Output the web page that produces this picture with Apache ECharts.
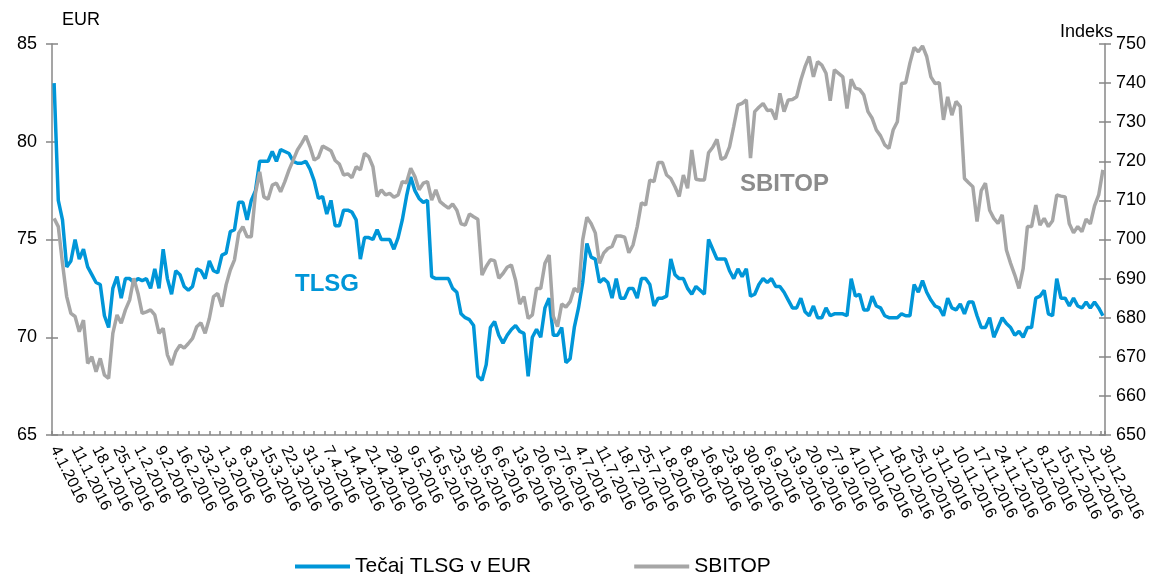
<!doctype html>
<html>
<head>
<meta charset="UTF-8">
<title>TLSG / SBITOP 2016</title>
<script src="https://cdn.jsdelivr.net/npm/echarts@6/dist/echarts.min.js"></script>
<style>
  html, body { margin: 0; padding: 0; background: #fff; }
  #main { width: 1163px; height: 574px; }
</style>
</head>
<body>
<div id="main"></div>
<script>
// trgovalni dnevi 2016 (Ljubljanska borza), brez praznikov
var holidays = ['2016-02-08', '2016-03-25', '2016-03-28', '2016-04-27', '2016-05-02',
                '2016-08-15', '2016-10-31', '2016-11-01', '2016-12-26'];
var firstDay = '2016-01-04';
var lastDay = '2016-12-30';

// Tečaj TLSG v EUR (leva os)
var tlsg = [
  83.0, 77.0, 76.0, 73.6, 73.9, 75.0, 74.0, 74.5, 73.6, 73.2,
  72.8, 72.7, 71.1, 70.5, 72.5, 73.1, 72.0, 73.0, 73.0, 72.8,
  73.0, 72.9, 73.0, 72.5, 73.5, 72.5, 74.5, 73.0, 72.2, 73.4,
  73.2, 72.6, 72.4, 72.6, 73.5, 73.4, 73.0, 73.9, 73.4, 73.3,
  74.2, 74.3, 75.4, 75.5, 76.9, 76.9, 76.0, 77.0, 77.5, 79.0,
  79.0, 79.0, 79.5, 79.0, 79.6, 79.5, 79.4, 79.0, 78.9, 78.9,
  79.0, 78.6, 78.0, 77.1, 77.2, 76.3, 77.0, 75.7, 75.7, 76.5,
  76.5, 76.4, 76.0, 74.0, 75.1, 75.1, 75.0, 75.5, 75.0, 75.0,
  75.0, 74.5, 75.1, 76.0, 77.2, 78.2, 77.5, 77.1, 76.9, 77.0,
  73.1, 73.0, 73.0, 73.0, 73.0, 72.5, 72.3, 71.2, 71.0, 70.9,
  70.6, 68.0, 67.8, 68.6, 70.5, 70.8, 70.1, 69.7, 70.1, 70.4,
  70.6, 70.3, 70.2, 68.0, 70.0, 70.4, 70.0, 71.5, 72.0, 70.1,
  70.1, 70.5, 68.7, 68.9, 70.5, 71.5, 72.8, 74.8, 74.1, 74.0,
  72.8, 73.0, 72.8, 72.0, 73.0, 72.0, 72.0, 72.5, 72.5, 72.0,
  73.0, 73.0, 72.7, 71.6, 72.0, 72.0, 72.1, 74.0, 73.2, 73.0,
  73.0, 72.5, 72.2, 72.6, 72.4, 72.2, 75.0, 74.5, 74.0, 74.0,
  74.0, 73.4, 73.0, 73.5, 73.1, 73.5, 72.1, 72.2, 72.7, 73.0,
  72.8, 73.0, 72.6, 72.6, 72.3, 71.9, 71.5, 71.5, 72.0, 71.3,
  71.1, 71.6, 71.0, 71.0, 71.5, 71.1, 71.2, 71.2, 71.2, 71.1,
  73.0, 72.1, 72.2, 71.4, 71.4, 72.1, 71.6, 71.5, 71.1, 71.0,
  71.0, 71.0, 71.2, 71.1, 71.1, 72.7, 72.3, 72.9, 72.3, 71.9,
  71.6, 71.5, 71.1, 72.0, 71.5, 71.4, 71.7, 71.2, 71.8, 71.8,
  71.1, 70.5, 70.5, 71.0, 70.0, 70.5, 71.0, 70.7, 70.5, 70.1,
  70.3, 70.0, 70.5, 70.5, 72.0, 72.1, 72.4, 71.2, 71.1, 73.0,
  72.0, 72.0, 71.6, 72.0, 71.6, 71.5, 71.8, 71.5, 71.8, 71.5, 71.1
];

// SBITOP (desna os)
var sbitop = [
  705.4, 703.3, 693.9, 685.4, 681.1, 680.3, 676.4, 679.4, 668.3, 670.0,
  666.2, 669.6, 665.3, 664.5, 676.0, 680.7, 678.6, 682.0, 684.5, 690.1,
  686.2, 681.1, 681.5, 682.0, 680.7, 676.0, 677.3, 670.5, 667.9, 671.3,
  673.0, 672.2, 673.4, 674.7, 677.7, 678.7, 676.0, 679.8, 685.4, 686.2,
  682.8, 688.4, 692.2, 694.8, 701.6, 703.3, 700.7, 700.7, 711.8, 717.3,
  710.9, 710.3, 713.9, 714.4, 712.2, 714.8, 717.8, 720.3, 722.9, 724.6,
  726.5, 723.7, 720.3, 721.0, 723.9, 723.3, 722.7, 720.2, 719.3, 716.5,
  716.8, 715.8, 718.6, 717.8, 722.0, 721.2, 718.6, 711.0, 712.7, 711.4,
  711.8, 710.8, 711.4, 714.8, 714.5, 718.2, 716.1, 712.7, 714.4, 714.8,
  710.1, 712.7, 709.7, 708.8, 708.0, 709.1, 707.5, 704.0, 703.7, 706.5,
  705.8, 705.2, 690.9, 693.1, 694.8, 694.6, 690.1, 691.3, 692.9, 693.5,
  689.6, 683.5, 685.4, 679.8, 680.7, 687.5, 687.5, 693.9, 696.0, 680.3,
  677.7, 683.5, 682.7, 684.1, 687.5, 686.6, 699.9, 705.7, 704.1, 701.7,
  693.9, 696.5, 697.7, 698.2, 700.9, 700.9, 700.6, 696.6, 698.6, 703.3,
  709.4, 708.8, 715.2, 714.8, 719.7, 719.7, 716.5, 715.6, 713.5, 711.0,
  716.5, 713.1, 722.9, 715.4, 715.2, 715.2, 722.2, 723.6, 725.6, 720.5,
  721.0, 723.7, 728.9, 734.4, 734.8, 735.7, 720.8, 732.7, 733.8, 734.8,
  733.0, 733.1, 730.7, 737.4, 732.7, 735.7, 735.8, 736.5, 740.8, 744.2,
  746.8, 741.6, 745.5, 744.6, 742.5, 735.5, 743.4, 742.5, 741.6, 733.5,
  741.0, 738.7, 738.4, 737.0, 732.7, 731.0, 728.0, 726.5, 724.2, 723.3,
  728.0, 730.1, 739.9, 740.1, 745.1, 749.1, 748.0, 749.5, 746.8, 741.6,
  739.9, 740.1, 730.6, 736.5, 731.8, 735.3, 734.0, 715.6, 714.5, 713.5,
  704.6, 712.5, 714.4, 707.5, 705.4, 704.1, 706.3, 697.3, 693.9, 690.9,
  687.5, 692.6, 703.3, 703.3, 708.8, 703.7, 705.4, 703.3, 704.8, 711.4,
  711.1, 710.9, 704.0, 701.7, 703.3, 702.0, 705.2, 704.0, 708.6, 711.4, 717.8
];

var eurAxis = { min: 65, max: 85, step: 5 };
var idxAxis = { min: 650, max: 750, step: 10 };

// seznam datumov (d.m.yyyy)
var dates = [];
var d = new Date(firstDay + 'T12:00:00');
var end = new Date(lastDay + 'T12:00:00');
while (d <= end) {
  var iso = d.getFullYear() + '-' + ('0' + (d.getMonth() + 1)).slice(-2) + '-' + ('0' + d.getDate()).slice(-2);
  var wd = d.getDay();
  if (wd !== 0 && wd !== 6 && holidays.indexOf(iso) < 0) {
    dates.push(d.getDate() + '.' + (d.getMonth() + 1) + '.' + d.getFullYear());
  }
  d.setDate(d.getDate() + 1);
}

var font = "'Liberation Sans', Arial, sans-serif";
var blue = '#0096d8';
var grey = '#a6a6a6';
var axisGrey = '#878787';

var myChart = echarts.init(document.getElementById('main'));
var option = {
  animation: false,
  backgroundColor: '#fff',
  textStyle: { fontFamily: font },
  grid: { left: 52, right: 58, top: 44, bottom: 139 },
  legend: {
    left: 290,
    top: 551,
    icon: 'rect',
    itemWidth: 55,
    itemHeight: 4,
    itemGap: 103,
    textStyle: { fontSize: 21, color: '#000', fontFamily: font },
    data: ['Tečaj TLSG v EUR', 'SBITOP']
  },
  xAxis: [
    {
      type: 'category',
      data: dates,
      boundaryGap: true,
      axisLine: { lineStyle: { color: axisGrey, width: 1.5 } },
      axisTick: { interval: 4, length: 5, lineStyle: { color: axisGrey, width: 1.5 } },
      axisLabel: { interval: 4, rotate: -63, fontSize: 16, color: '#000', margin: 12, fontFamily: font },
      splitLine: { show: false }
    },
    {
      type: 'value',
      position: 'bottom',
      min: 0,
      max: dates.length,
      interval: 2.5,
      axisLine: { show: false },
      axisTick: { show: true, inside: true, length: 4, lineStyle: { color: axisGrey, width: 1.5 } },
      axisLabel: { show: false },
      splitLine: { show: false }
    }
  ],
  yAxis: [
    {
      type: 'value',
      position: 'left',
      min: eurAxis.min, max: eurAxis.max, interval: eurAxis.step,
      axisLine: { show: true, lineStyle: { color: axisGrey, width: 1.5 } },
      axisTick: { show: true, length: 6, lineStyle: { color: axisGrey, width: 1.5 } },
      axisLabel: { fontSize: 18, color: '#000', margin: 15, fontFamily: font },
      splitLine: { show: false }
    },
    {
      type: 'value',
      position: 'right',
      min: idxAxis.min, max: idxAxis.max, interval: idxAxis.step,
      axisLine: { show: true, lineStyle: { color: axisGrey, width: 1.5 } },
      axisTick: { show: true, length: 6, lineStyle: { color: axisGrey, width: 1.5 } },
      axisLabel: { fontSize: 18, color: '#000', margin: 11, fontFamily: font },
      splitLine: { show: false }
    },
    {
      type: 'value',
      position: 'left',
      min: eurAxis.min, max: eurAxis.max, interval: eurAxis.step,
      axisLine: { show: false },
      axisTick: { show: true, inside: true, length: 6, lineStyle: { color: axisGrey, width: 1.5 } },
      axisLabel: { show: false },
      splitLine: { show: false }
    },
    {
      type: 'value',
      position: 'right',
      min: idxAxis.min, max: idxAxis.max, interval: idxAxis.step,
      axisLine: { show: false },
      axisTick: { show: true, inside: true, length: 6, lineStyle: { color: axisGrey, width: 1.5 } },
      axisLabel: { show: false },
      splitLine: { show: false }
    }
  ],
  series: [
    {
      name: 'Tečaj TLSG v EUR',
      type: 'line',
      xAxisIndex: 0,
      yAxisIndex: 0,
      data: tlsg,
      showSymbol: false,
      symbol: 'none',
      color: blue,
      lineStyle: { color: blue, width: 3.5 }
    },
    {
      name: 'SBITOP',
      type: 'line',
      xAxisIndex: 0,
      yAxisIndex: 1,
      data: sbitop,
      showSymbol: false,
      symbol: 'none',
      color: grey,
      lineStyle: { color: grey, width: 3.5 }
    }
  ],
  graphic: [
    { type: 'text', x: 62, y: 20, style: { text: 'EUR', font: '18px ' + font, fill: '#000', verticalAlign: 'middle' } },
    { type: 'text', x: 1060, y: 32, style: { text: 'Indeks', font: '18px ' + font, fill: '#000', verticalAlign: 'middle' } },
    { type: 'text', x: 295, y: 284, style: { text: 'TLSG', font: 'bold 24px ' + font, fill: blue, verticalAlign: 'middle' } },
    { type: 'text', x: 740, y: 184, style: { text: 'SBITOP', font: 'bold 24px ' + font, fill: '#8c8c8c', verticalAlign: 'middle' } }
  ]
};
myChart.setOption(option);
</script>
</body>
</html>
